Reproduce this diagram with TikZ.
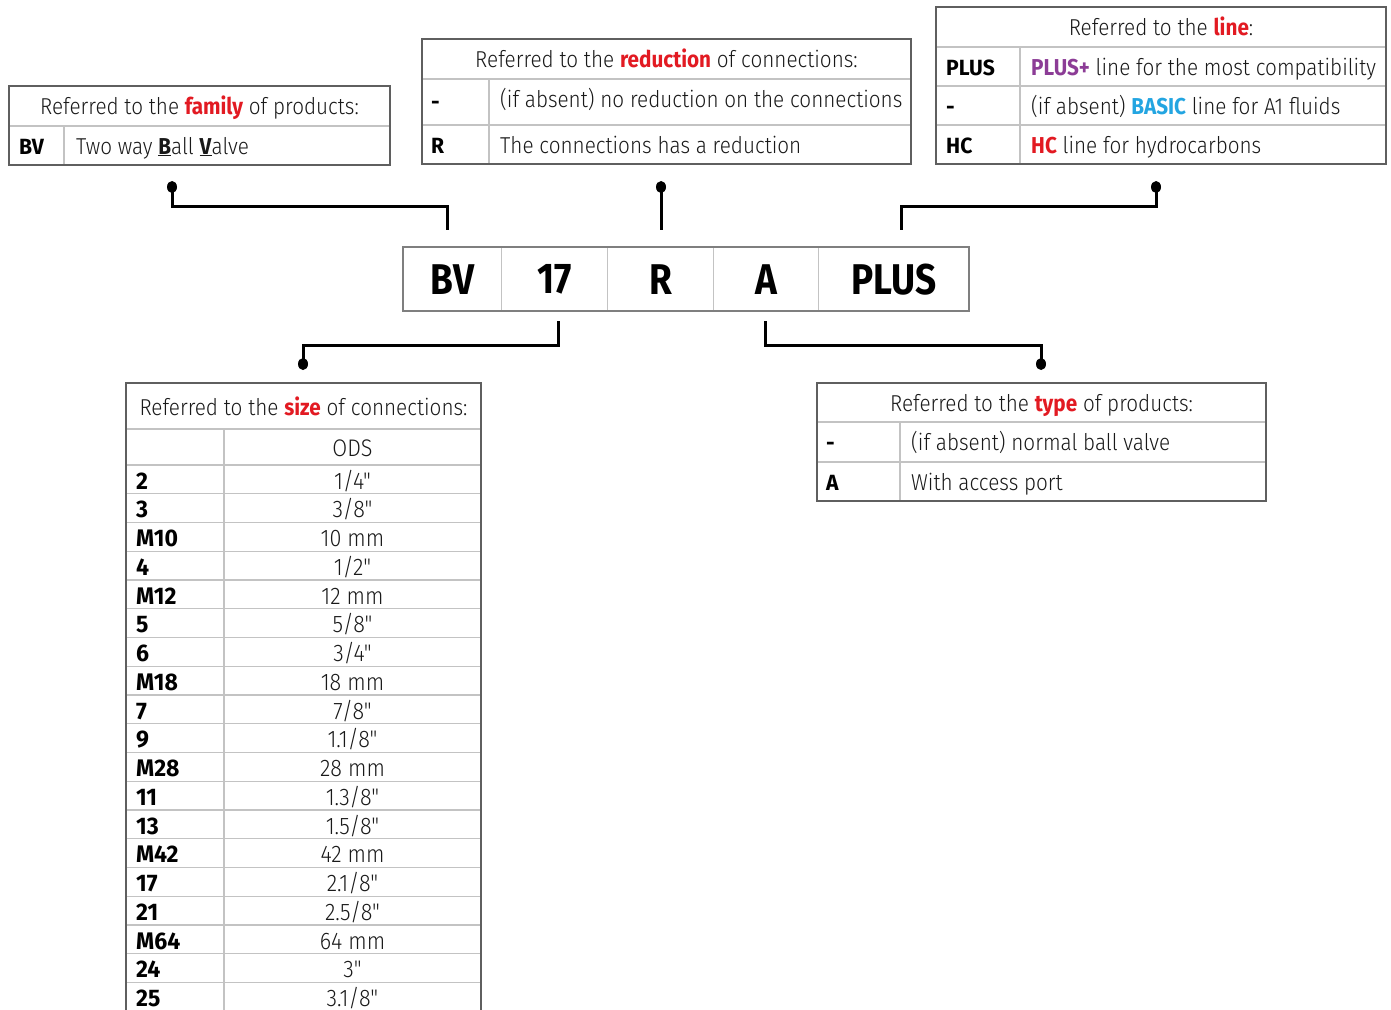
\documentclass[tikz,border=0pt]{standalone}
\usepackage{fontspec}
\setmainfont{Fira Sans Light}[BoldFont={Fira Sans Bold}, FakeStretch=0.90, Ligatures=TeXOff]
\newfontfamily\codefont{Fira Sans Bold}[FakeStretch=0.86]
\newfontfamily\keyfont{Fira Sans Bold}[FakeStretch=0.96]
\definecolor{rd}{RGB}{226,26,34}
\definecolor{pu}{RGB}{140,60,150}
\definecolor{bl}{RGB}{35,165,225}
\definecolor{outerc}{RGB}{95,95,95}
\definecolor{innerc}{RGB}{195,195,195}
\definecolor{txt}{RGB}{25,25,25}
\tikzset{
  hdr/.style={anchor=base, inner sep=0pt, text=txt, font=\fontsize{23}{25}\selectfont},
  keyt/.style={anchor=base west, inner sep=0pt, text=black, font=\keyfont\fontsize{22}{24}\selectfont},
  valt/.style={anchor=base west, inner sep=0pt, text=txt, font=\fontsize{23}{25}\selectfont},
  skey/.style={anchor=base west, inner sep=0pt, text=black, font=\keyfont\fontsize{24}{26}\selectfont},
  cval/.style={anchor=base, inner sep=0pt, text=txt, font=\fontsize{24}{26}\selectfont},
  grid/.style={draw=innerc, line width=1.2pt},
  frame/.style={draw=outerc, line width=1.5pt},
  cell/.style={draw=innerc, line width=1.2pt, minimum height=64pt, inner sep=0pt, anchor=north west, font=\codefont\fontsize{43}{45}\selectfont, text=black},
  conn/.style={draw=black, line width=3pt},
  dot/.style={fill=black, draw=none},
}
\begin{document}
\begin{tikzpicture}[x=1pt,y=-1pt]
\useasboundingbox (0,0) rectangle (1391,1009);
\clip (0,0) rectangle (1391,1009);

% ---------- family box ----------
\draw[grid] (9,126) -- (390,126) (64,126) -- (64,165);
\draw[frame] (9,86) rectangle (390,165);
\node[hdr] (famh) at (199.5,114) {Referred to the \textbf{\color{rd}family} of products:};
\node[keyt] (famk) at (19,154) {BV};
\node[valt] (famv) at (76,154) {Two way \underline{\textbf{B}}all \underline{\textbf{V}}alve};

% ---------- reduction box ----------
\draw[grid] (422,79) -- (911,79) (422,125) -- (911,125) (489,79) -- (489,164);
\draw[frame] (422,39) rectangle (911,164);
\node[hdr] (redh) at (666.5,67) {Referred to the \textbf{\color{rd}reduction} of connections:};
\node[keyt] (redk1) at (431,109) {-};
\node[valt] (redv1) at (500,107) {(if absent) no reduction on the connections};
\node[keyt] (redk2) at (431,153) {R};
\node[valt] (redv2) at (500,153) {The connections has a reduction};

% ---------- line box ----------
\draw[grid] (936,47) -- (1386,47) (936,86) -- (1386,86) (936,125) -- (1386,125) (1020,47) -- (1020,164);
\draw[frame] (936,7) rectangle (1386,164);
\node[hdr] (linh) at (1161,35) {Referred to the \textbf{\color{rd}line}:};
\node[keyt] (link1) at (946,75) {PLUS};
\node[valt] (linv1) at (1031,75) {\textbf{\color{pu}PLUS+} line for the most compatibility};
\node[keyt] (link2) at (946,114) {-};
\node[valt] (linv2) at (1031,114) {(if absent) \textbf{\color{bl}BASIC} line for A1 fluids};
\node[keyt] (link3) at (946,153) {HC};
\node[valt] (linv3) at (1031,153) {\textbf{\color{rd}HC} line for hydrocarbons};

% ---------- code box ----------
\node[cell, minimum width=98pt]  (cBV)   at (403,247) {BV};
\node[cell, minimum width=106pt] (c17)   at (501,247) {17};
\node[cell, minimum width=106pt] (cR)    at (607,247) {R};
\node[cell, minimum width=105pt] (cA)    at (713,247) {A};
\node[cell, minimum width=151pt] (cPLUS) at (818,247) {PLUS};
\draw[frame, draw=outerc!80] (403,247) rectangle (969,311);

% ---------- connectors ----------
\coordinate (dFam) at (172,187);
\coordinate (dRed) at (661,187);
\coordinate (dLin) at (1156,187);
\coordinate (dSiz) at (303,364);
\coordinate (dTyp) at (1041,364);
\coordinate (tFam) at (447,230);
\coordinate (tRed) at (661,230);
\coordinate (tLin) at (901,230);
\coordinate (bSiz) at (558,321);
\coordinate (bTyp) at (765,321);
\draw[conn] (dFam) -- (172,206) -- (447,206) -- (tFam);
\draw[conn] (dRed) -- (tRed);
\draw[conn] (dLin) -- (1156,206) -- (901,206) -- (tLin);
\draw[conn] (bSiz) -- (558,345) -- (303,345) -- (dSiz);
\draw[conn] (bTyp) -- (765,345) -- (1041,345) -- (dTyp);
\foreach \d in {dFam,dRed,dLin,dSiz,dTyp}
  \fill[dot] (\d) ellipse [x radius=5pt, y radius=6pt];

% ---------- type box ----------
\draw[grid] (817,422) -- (1266,422) (817,462) -- (1266,462) (900,422) -- (900,501);
\draw[frame] (817,383) rectangle (1266,501);
\node[hdr] (typh) at (1041.5,411) {Referred to the \textbf{\color{rd}type} of products:};
\node[keyt] (typk1) at (826,450) {-};
\node[valt] (typv1) at (911,450) {(if absent) normal ball valve};
\node[keyt] (typk2) at (826,490) {A};
\node[valt] (typv2) at (911,490) {With access port};

% ---------- size table ----------
\draw[grid] (126,429) -- (481,429) (126,465) -- (481,465) (224,429) -- (224,1030);
\foreach \i in {1,...,19} \draw[grid] (126,465+28.75*\i) -- (481,465+28.75*\i);
\draw[frame] (126,1040) -- (126,383) -- (481,383) -- (481,1040);
\node[hdr] (sizh) at (303.5,415) {Referred to the \textbf{\color{rd}size} of connections:};
\node[cval] (ods) at (352.5,456) {ODS};
\foreach [count=\i from 0] \k/\v in {2/{1/4"},3/{3/8"},M10/{10 mm},4/{1/2"},M12/{12 mm},5/{5/8"},6/{3/4"},M18/{18 mm},7/{7/8"},9/{1.1/8"},M28/{28 mm},11/{1.3/8"},13/{1.5/8"},M42/{42 mm},17/{2.1/8"},21/{2.5/8"},M64/{64 mm},24/{3"},25/{3.1/8"}}{
  \node[skey] (sk\i) at (136,465+28.75*\i+24) {\k};
  \node[cval] (sv\i) at (352.5,465+28.75*\i+24) {\v};
}
\end{tikzpicture}
\end{document}
